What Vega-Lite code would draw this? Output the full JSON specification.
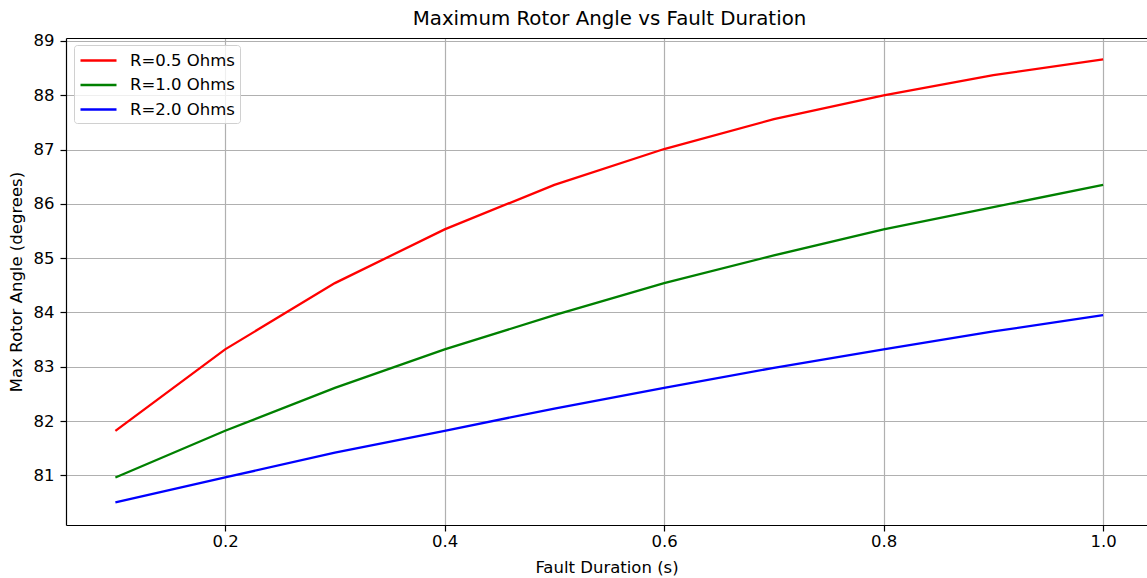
{
  "$schema": "https://vega.github.io/schema/vega-lite/v6.json",
  "width": 1081,
  "height": 487,
  "autosize": "none",
  "padding": {"left": 66, "top": 38, "right": 0, "bottom": 53},
  "background": "white",
  "config": {
    "view": {"stroke": null},
    "font": "DejaVu Sans",
    "axis": {
      "labelFont": "DejaVu Sans",
      "labelFontSize": 16.5,
      "labelColor": "#000000",
      "titleFont": "DejaVu Sans",
      "titleFontSize": 16.5,
      "titleFontWeight": "normal",
      "titleColor": "#000000",
      "domainColor": "#000000",
      "domainWidth": 1.2,
      "tickColor": "#000000",
      "tickWidth": 1.2,
      "tickSize": 6,
      "gridColor": "#b0b0b0",
      "gridWidth": 1.2,
      "gridOpacity": 1
    }
  },
  "title": {
    "text": "Maximum Rotor Angle vs Fault Duration",
    "font": "DejaVu Sans",
    "fontSize": 19.8,
    "fontWeight": "normal",
    "color": "#000000",
    "anchor": "middle",
    "frame": "group",
    "offset": 4,
    "dx": 3
  },
  "data": {
    "values": [
      {"t": 0.1, "R": "R=0.5 Ohms", "angle": 81.82},
      {"t": 0.2, "R": "R=0.5 Ohms", "angle": 83.32},
      {"t": 0.3, "R": "R=0.5 Ohms", "angle": 84.54},
      {"t": 0.4, "R": "R=0.5 Ohms", "angle": 85.53},
      {"t": 0.5, "R": "R=0.5 Ohms", "angle": 86.35},
      {"t": 0.6, "R": "R=0.5 Ohms", "angle": 87.01},
      {"t": 0.7, "R": "R=0.5 Ohms", "angle": 87.56},
      {"t": 0.8, "R": "R=0.5 Ohms", "angle": 88.0},
      {"t": 0.9, "R": "R=0.5 Ohms", "angle": 88.37},
      {"t": 1.0, "R": "R=0.5 Ohms", "angle": 88.66},
      {"t": 0.1, "R": "R=1.0 Ohms", "angle": 80.96},
      {"t": 0.2, "R": "R=1.0 Ohms", "angle": 81.82},
      {"t": 0.3, "R": "R=1.0 Ohms", "angle": 82.61},
      {"t": 0.4, "R": "R=1.0 Ohms", "angle": 83.32},
      {"t": 0.5, "R": "R=1.0 Ohms", "angle": 83.95},
      {"t": 0.6, "R": "R=1.0 Ohms", "angle": 84.54},
      {"t": 0.7, "R": "R=1.0 Ohms", "angle": 85.05},
      {"t": 0.8, "R": "R=1.0 Ohms", "angle": 85.53},
      {"t": 0.9, "R": "R=1.0 Ohms", "angle": 85.94},
      {"t": 1.0, "R": "R=1.0 Ohms", "angle": 86.35},
      {"t": 0.1, "R": "R=2.0 Ohms", "angle": 80.5},
      {"t": 0.2, "R": "R=2.0 Ohms", "angle": 80.96},
      {"t": 0.3, "R": "R=2.0 Ohms", "angle": 81.42},
      {"t": 0.4, "R": "R=2.0 Ohms", "angle": 81.82},
      {"t": 0.5, "R": "R=2.0 Ohms", "angle": 82.23},
      {"t": 0.6, "R": "R=2.0 Ohms", "angle": 82.61},
      {"t": 0.7, "R": "R=2.0 Ohms", "angle": 82.98},
      {"t": 0.8, "R": "R=2.0 Ohms", "angle": 83.32},
      {"t": 0.9, "R": "R=2.0 Ohms", "angle": 83.65},
      {"t": 1.0, "R": "R=2.0 Ohms", "angle": 83.95}
    ]
  },
  "layer": [
    {
      "mark": {"type": "line", "strokeWidth": 2.3},
      "encoding": {
        "x": {
          "field": "t",
          "type": "quantitative",
          "scale": {"domain": [0.055, 1.04], "nice": false, "zero": false},
          "axis": {
            "orient": "bottom",
            "values": [0.2, 0.4, 0.6, 0.8, 1.0],
            "format": ".1f",
            "title": "Fault Duration (s)",
            "labelPadding": 2,
            "titlePadding": 10,
            "labelFlush": false,
            "labelOverlap": false
          }
        },
        "y": {
          "field": "angle",
          "type": "quantitative",
          "scale": {"domain": [80.085, 89.055], "nice": false, "zero": false},
          "axis": {
            "values": [81, 82, 83, 84, 85, 86, 87, 88, 89],
            "format": "d",
            "title": "Max Rotor Angle (degrees)",
            "labelPadding": 6,
            "titlePadding": 9,
            "labelFlush": false,
            "labelOverlap": false
          }
        },
        "color": {
          "field": "R",
          "type": "nominal",
          "scale": {"domain": ["R=0.5 Ohms", "R=1.0 Ohms", "R=2.0 Ohms"], "range": ["#ff0000", "#008000", "#0000ff"]},
          "legend": {
            "orient": "none",
            "legendX": 8,
            "legendY": 7,
            "title": null,
            "symbolType": "M-1,0H3",
            "symbolSize": 324,
            "symbolStrokeWidth": 2.3,
            "labelFont": "DejaVu Sans",
            "labelFontSize": 16.5,
            "labelColor": "#000000",
            "labelOffset": 30,
            "rowPadding": 5.5,
            "padding": 5,
            "strokeColor": "#d0d0d0",
            "fillColor": "rgba(255,255,255,0.8)",
            "cornerRadius": 3
          }
        }
      }
    },
    {
      "mark": {"type": "line", "opacity": 0},
      "encoding": {
        "x": {
          "field": "t",
          "type": "quantitative",
          "scale": {"domain": [0.055, 1.04], "nice": false, "zero": false},
          "axis": {"orient": "top", "labels": false, "ticks": false, "grid": false, "title": null, "domain": true}
        },
        "y": {"field": "angle", "type": "quantitative"},
        "detail": {"field": "R", "type": "nominal"}
      }
    }
  ],
  "resolve": {"axis": {"x": "independent"}}
}
